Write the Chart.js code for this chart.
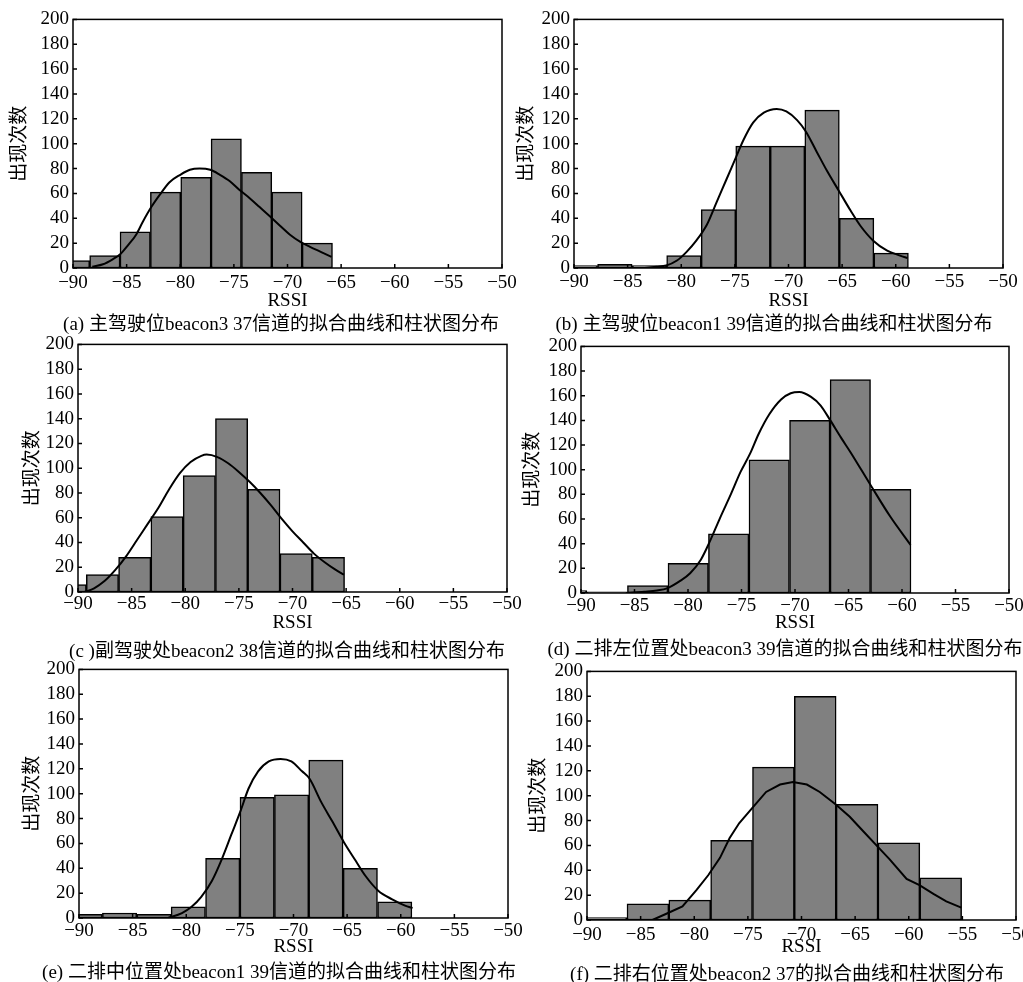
<!DOCTYPE html>
<html>
<head>
<meta charset="utf-8">
<script src="https://cdn.jsdelivr.net/npm/chart.js@4.4.1/dist/chart.umd.min.js"></script>
<style>
  body { margin: 0; background: #fff; overflow: hidden; width: 1023px; height: 982px; position: relative; }
  canvas { position: absolute; }
  .cap { position: absolute; font: 19px "Liberation Serif", "Noto Sans CJK SC", serif; white-space: nowrap;
         transform: translate(-50%, -50%); color: #000; }
</style>
</head>
<body>
<script>
// bin centres (RSSI) and counts
const rssiA = [-89.86, -87.03, -84.20, -81.37, -78.54, -75.71, -72.88, -70.05, -67.22];
const countA = [6, 10, 29, 61, 73, 104, 77, 61, 20];
const rssiB = [-89.41, -86.19, -82.97, -79.75, -76.53, -73.31, -70.09, -66.87, -63.65, -60.43];
const countB = [2, 3, 2, 10, 47, 98, 98, 127, 40, 12];
const rssiC = [-90.73, -87.72, -84.71, -81.70, -78.69, -75.68, -72.67, -69.66, -66.65];
const countC = [6, 14, 28, 61, 94, 140, 83, 31, 28];
const rssiD = [-91.35, -87.56, -83.77, -79.98, -76.20, -72.41, -68.62, -64.83, -61.05];
const countD = [2, 1, 6, 24, 48, 108, 140, 173, 84];
const rssiE = [-89.43, -86.22, -83.01, -79.81, -76.60, -73.39, -70.18, -66.98, -63.77, -60.56];
const countE = [3, 4, 3, 9, 48, 97, 99, 127, 40, 13];
const rssiF = [-88.22, -84.32, -80.42, -76.52, -72.62, -68.72, -64.82, -60.92, -57.02];
const countF = [2, 13, 16, 64, 123, 180, 93, 62, 34];

// fitted curves, points
const fitXA = [-88.2, -87.2, -86.3, -85.6, -84.9, -84.1, -83.5, -82.7, -81.9, -81.0, -80.0, -79.1, -78.2, -77.2, -76.3, -75.4, -74.5, -73.5, -72.6, -71.7, -70.7, -69.8, -68.8, -67.9, -66.9, -65.9];
const fitYA = [1, 3, 7, 11, 18, 27, 37, 49, 59, 69, 75, 79, 80, 79, 75, 70, 63, 56, 49, 42, 34, 27, 21, 17, 13, 9];
const fitXB = [-84.0, -83.2, -82.3, -81.4, -80.4, -79.5, -78.6, -77.6, -76.7, -75.8, -74.9, -74.2, -73.3, -72.3, -71.1, -70.2, -69.2, -68.4, -67.4, -66.4, -65.3, -64.2, -63.3, -62.1, -60.8, -59.6, -58.9];
const fitYB = [0, 0.3, 1, 2, 6, 13, 22, 35, 53, 71, 89, 103, 117, 125, 128, 126, 119, 110, 94, 78, 62, 46, 34, 22, 14, 10, 8];
const fitXC = [-89.4, -88.5, -87.5, -86.5, -85.5, -84.5, -83.5, -82.5, -81.5, -80.5, -79.5, -78.5, -78.0, -77.0, -76.0, -75.0, -74.0, -73.0, -72.0, -71.0, -70.0, -69.0, -68.0, -67.0, -66.0, -65.2];
const fitYC = [0, 3, 9, 18, 29, 42, 55, 68, 83, 96, 105, 110, 111, 109, 104, 97, 89, 80, 70, 59, 49, 40, 31, 24, 18, 14];
const fitXD = [-85.7, -84.1, -82.9, -81.9, -80.7, -79.8, -78.8, -78.0, -77.0, -76.0, -75.1, -74.2, -73.4, -72.4, -71.3, -70.4, -69.6, -68.5, -67.6, -66.7, -65.7, -64.8, -62.9, -61.1, -59.2];
const fitYD = [0, 1, 2, 4, 10, 16, 27, 41, 61, 80, 98, 113, 129, 145, 157, 162, 163, 159, 152, 140, 126, 114, 87, 62, 39];
const fitXE = [-81.7, -80.4, -79.5, -78.6, -77.6, -76.7, -75.8, -74.9, -74.2, -73.3, -72.3, -71.2, -70.2, -69.2, -68.5, -67.4, -66.4, -65.3, -64.2, -63.3, -62.1, -60.8, -59.6, -58.9];
const fitYE = [0, 4, 9, 17, 30, 47, 67, 87, 104, 118, 126, 128, 126, 118, 112, 93, 78, 61, 46, 34, 22, 15, 10, 8];
const fitXF = [-83.9, -82.6, -81.1, -79.8, -78.7, -77.6, -76.7, -75.8, -74.5, -73.3, -72.0, -70.8, -69.5, -68.3, -66.8, -65.5, -64.2, -62.9, -61.8, -60.2, -59.0, -57.7, -56.5, -55.1];
const fitYF = [0, 5, 11, 24, 36, 50, 66, 78, 91, 103, 109, 111, 109, 103, 93, 83, 71, 59, 49, 33, 28, 21, 15, 10];

const captions = [
  '(a) 主驾驶位beacon3 37信道的拟合曲线和柱状图分布',
  '(b) 主驾驶位beacon1 39信道的拟合曲线和柱状图分布',
  '(c )副驾驶处beacon2 38信道的拟合曲线和柱状图分布',
  '(d) 二排左位置处beacon3 39信道的拟合曲线和柱状图分布',
  '(e) 二排中位置处beacon1 39信道的拟合曲线和柱状图分布',
  '(f) 二排右位置处beacon2 37的拟合曲线和柱状图分布'
];
const xTitle = 'RSSI';
const yTitle = '出现次数';

const FONT = "'Liberation Serif', 'Noto Sans CJK SC', serif";
const YW = 65;     // y axis box width
const PT = 12;     // top padding
const PR = 24;     // right padding

// plot area position and text offsets for each panel
const panels = [
  { rssi: rssiA, count: countA, fx: fitXA, fy: fitYA, L: 73,  T: 16,  R: 502,  B: 268, tp: 4, hx: 44, ytp: 1, cx: 281, cy: 321, tension: null },
  { rssi: rssiB, count: countB, fx: fitXB, fy: fitYB, L: 574, T: 16,  R: 1003, B: 268, tp: 3, hx: 44, ytp: 7, cx: 774, cy: 321, tension: null },
  { rssi: rssiC, count: countC, fx: fitXC, fy: fitYC, L: 78,  T: 341, R: 507,  B: 592, tp: 1, hx: 42, ytp: 9, cx: 287, cy: 648, tension: null },
  { rssi: rssiD, count: countD, fx: fitXD, fy: fitYD, L: 581, T: 343, R: 1009, B: 593, tp: 2, hx: 41, ytp: 6, cx: 785, cy: 646, tension: null },
  { rssi: rssiE, count: countE, fx: fitXE, fy: fitYE, L: 79,  T: 666, R: 508,  B: 918, tp: 2, hx: 40, ytp: 8, cx: 279, cy: 969, tension: null },
  { rssi: rssiF, count: countF, fx: fitXF, fy: fitYF, L: 587, T: 668, R: 1016, B: 920, tp: 4, hx: 38, ytp: 6, cx: 787, cy: 971, tension: 0 }
];

// box around the plot area and short inward tick marks
const framePlugin = {
  id: 'frame',
  afterDatasetsDraw(chart) {
    const { ctx, chartArea: a, scales: { x, y } } = chart;
    ctx.save();
    ctx.strokeStyle = '#000';
    ctx.lineWidth = 1.5;
    ctx.strokeRect(a.left, a.top, a.right - a.left, a.bottom - a.top);
    ctx.beginPath();
    x.ticks.forEach(t => {
      const px = x.getPixelForValue(t.value);
      ctx.moveTo(px, a.bottom);
      ctx.lineTo(px, a.bottom - 4);
    });
    y.ticks.forEach(t => {
      const py = y.getPixelForValue(t.value);
      ctx.moveTo(a.left, py);
      ctx.lineTo(a.left + 4, py);
    });
    ctx.stroke();
    ctx.restore();
  }
};

panels.forEach((p, i) => {
  const canvas = document.createElement('canvas');
  const w = p.R - p.L + YW + PR;
  const h = PT + (p.B - p.T) + p.hx;
  canvas.width = w;
  canvas.height = h;
  canvas.style.left = (p.L - YW) + 'px';
  canvas.style.top = (p.T - PT) + 'px';
  canvas.style.width = w + 'px';
  canvas.style.height = h + 'px';
  document.body.appendChild(canvas);

  const cap = document.createElement('div');
  cap.className = 'cap';
  cap.textContent = captions[i];
  cap.style.left = p.cx + 'px';
  cap.style.top = p.cy + 'px';
  document.body.appendChild(cap);

  const lineOpts = p.tension === null ? { cubicInterpolationMode: 'monotone' } : { tension: p.tension };

  new Chart(canvas, {
    type: 'bar',
    data: {
      datasets: [
        Object.assign({
          type: 'line',
          data: p.fx.map((x, k) => ({ x: x, y: p.fy[k] })),
          borderColor: '#000',
          borderWidth: 2,
          pointRadius: 0,
          fill: false,
          order: 0
        }, lineOpts),
        {
          type: 'bar',
          data: p.rssi.map((x, k) => ({ x: x, y: p.count[k] })),
          backgroundColor: '#808080',
          borderColor: '#000',
          borderWidth: 1.5,
          borderSkipped: false,
          barPercentage: 1,
          categoryPercentage: 1,
          clip: 0,
          order: 1
        }
      ]
    },
    options: {
      responsive: false,
      animation: false,
      layout: { padding: { top: PT, right: PR, left: 0, bottom: 0 } },
      plugins: { legend: { display: false }, tooltip: { enabled: false } },
      scales: {
        x: {
          type: 'linear',
          min: -90,
          max: -50,
          offset: false,
          grid: { display: false, drawTicks: false },
          border: { display: false },
          ticks: {
            stepSize: 5,
            autoSkip: false,
            padding: p.tp,
            maxRotation: 0,
            color: '#000',
            font: { family: FONT, size: 19 },
            callback: v => (v < 0 ? '\u2212' + Math.abs(v) : String(v))
          },
          title: { display: true, text: xTitle, color: '#000', font: { family: FONT, size: 19 }, padding: { top: 0, bottom: 0 } },
          afterFit: s => { s.height = p.hx; }
        },
        y: {
          min: 0,
          max: 200,
          grid: { display: false, drawTicks: false },
          border: { display: false },
          ticks: { stepSize: 20, autoSkip: false, padding: 4, color: '#000', font: { family: FONT, size: 19 } },
          title: { display: true, text: yTitle, color: '#000', font: { family: FONT, size: 19 }, padding: { top: p.ytp, bottom: 0 } },
          afterFit: s => { s.width = YW; }
        }
      }
    },
    plugins: [framePlugin]
  });
});
</script>
</body>
</html>
